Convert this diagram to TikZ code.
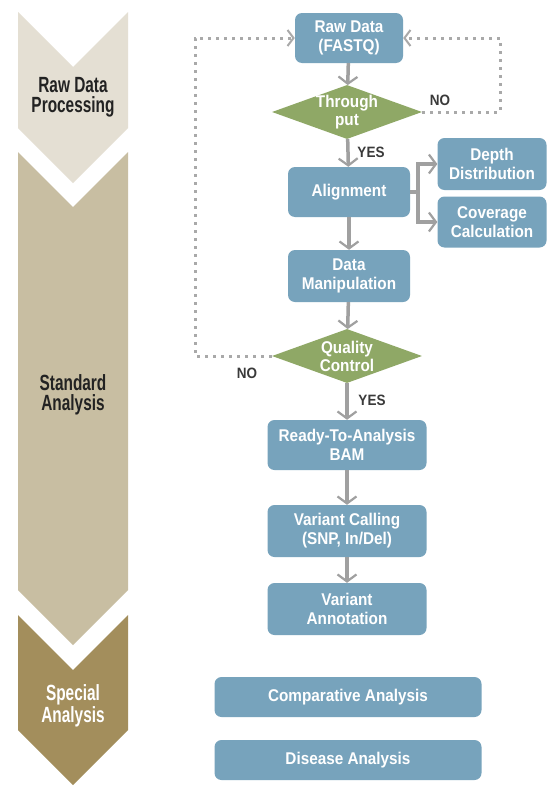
\documentclass[tikz,border=0pt]{standalone}
\usepackage{fontspec}
\setmainfont{Liberation Sans}
\newfontfamily\chevfont[FakeStretch=0.7]{Liberation Sans}
\newfontfamily\boxfont[FakeStretch=0.9]{Liberation Sans}
\usetikzlibrary{shapes.geometric,arrows.meta}
\definecolor{chevA}{HTML}{E4DFD3}
\definecolor{chevB}{HTML}{C8BEA2}
\definecolor{chevC}{HTML}{A38E5C}
\definecolor{boxblue}{HTML}{77A3BC}
\definecolor{diagreen}{HTML}{8FA866}
\definecolor{arrgray}{HTML}{A0A0A0}
\definecolor{dotgray}{HTML}{A9A9A9}
\definecolor{labgray}{HTML}{3A3A3A}
\definecolor{chevtext}{HTML}{222222}
\tikzset{
  x=1pt, y=-1pt,
  chevlabel/.style={font=\chevfont\bfseries\fontsize{22}{20}\selectfont, align=center, text=chevtext},
  flowbox/.style={draw=none, fill=boxblue, rounded corners=7pt, text=white,
    font=\boxfont\bfseries\fontsize{17}{19}\selectfont, align=center, inner sep=0pt},
  decision/.style={diamond, fill=diagreen, draw=none, inner sep=0pt,
    minimum width=150pt, minimum height=54pt},
  dtext/.style={text=white, font=\boxfont\bfseries\fontsize{17}{18}\selectfont, align=center},
  yesno/.style={text=labgray, font=\boxfont\bfseries\fontsize{15}{17}\selectfont},
  arr/.style={draw=arrgray, line width=3.5pt,
    -{Straight Barb[length=7pt,width=19pt,line width=2.2pt]}},
  arrline/.style={draw=arrgray, line width=3.5pt},
  dotline/.style={draw=dotgray, line width=3pt, dash pattern=on 3pt off 5pt,
    -{Straight Barb[length=6pt,width=16pt,line width=2pt]}}
}
\begin{document}
\begin{tikzpicture}
\useasboundingbox (0,0) rectangle (549,787);
\fill[white] (0,0) rectangle (549,787);

% chevrons
\fill[chevA] (18,12) -- (73,67) -- (128,12) -- (128,128) -- (73,183) -- (18,128) -- cycle;
\fill[chevB] (18,152) -- (73,207) -- (128,152) -- (128,590) -- (73,645) -- (18,590) -- cycle;
\fill[chevC] (18,615) -- (73,670) -- (128,615) -- (128,730) -- (73,785) -- (18,730) -- cycle;
\node[chevlabel] (lraw) at (73,97) {Raw Data\\Processing};
\node[chevlabel] (lstd) at (73,395) {Standard\\Analysis};
\node[chevlabel, text=white] (lspe) at (73,706) {Special\\Analysis};

% boxes
\node[flowbox, minimum width=108pt, minimum height=50pt] (raw) at (349,38) {Raw Data\\(FASTQ)};
\node[decision, label={[dtext]center:Through\\put}] (thr) at (347,112) {};
\node[flowbox, minimum width=122pt, minimum height=50pt] (align) at (349,192) {Alignment};
\node[flowbox, minimum width=109pt, minimum height=52pt] (depth) at (492,164) {Depth\\Distribution};
\node[flowbox, minimum width=109pt, minimum height=51pt] (cov) at (492,222) {Coverage\\Calculation};
\node[flowbox, minimum width=122pt, minimum height=52pt] (manip) at (349,276) {Data\\Manipulation};
\node[decision, label={[dtext]center:Quality\\Control}] (qc) at (347,356) {};
\node[flowbox, minimum width=159pt, minimum height=50pt] (ready) at (347,445) {Ready-To-Analysis\\BAM};
\node[flowbox, minimum width=159pt, minimum height=52pt] (call) at (347,531) {Variant Calling\\(SNP, In/Del)};
\node[flowbox, minimum width=159pt, minimum height=52pt] (annot) at (347,609) {Variant\\Annotation};
\node[flowbox, minimum width=267pt, minimum height=40pt] (comp) at (348,697) {Comparative Analysis};
\node[flowbox, minimum width=267pt, minimum height=40pt] (dis) at (348,760) {Disease Analysis};

% labels
\node[yesno] (no1) at (440,100) {NO};
\node[yesno] (yes1) at (371,152) {YES};
\node[yesno] (no2) at (247,373) {NO};
\node[yesno] (yes2) at (372,400) {YES};

% arrows
\draw[arr] (raw) -- (thr);
\draw[arr] (thr) -- (align);
\draw[arr] (align) -- (manip);
\draw[arr] (manip) -- (qc);
\draw[arr] (qc) -- (ready);
\draw[arr] (ready) -- (call);
\draw[arr] (call) -- (annot);
\coordinate (br) at (418,192);
\draw[arrline] (align.east) -- (br);
\draw[arr] (br) |- (depth.west);
\draw[arr] (br) |- (cov.west);

% dotted loops
\coordinate (rc) at (500,112);
\coordinate (lc) at (195,356);
\draw[dotline] (thr.east) -- (rc) |- (raw.east);
\draw[dotline] (qc.west) -- (lc) |- (raw.west);
\end{tikzpicture}
\end{document}
